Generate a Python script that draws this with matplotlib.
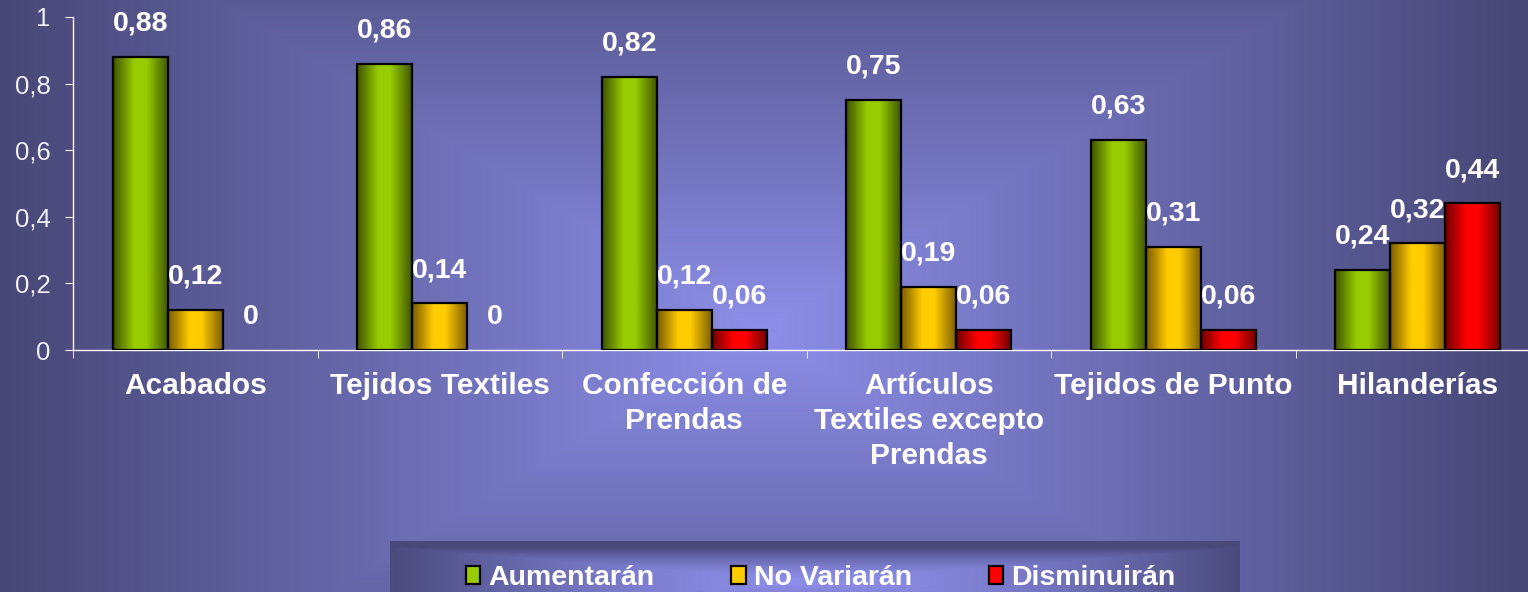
import numpy as np
import matplotlib
matplotlib.use("Agg")
import matplotlib.pyplot as plt
from matplotlib.colors import LinearSegmentedColormap, to_rgb
from matplotlib.patches import Patch

plt.rcParams['font.family'] = ['Liberation Sans', 'DejaVu Sans']

categories = ['Acabados', 'Tejidos Textiles', 'Confección de\nPrendas',
              'Artículos\nTextiles excepto\nPrendas', 'Tejidos de Punto', 'Hilanderías']
series_names = ['Aumentarán', 'No Variarán', 'Disminuirán']
aumentaran = [0.88, 0.86, 0.82, 0.75, 0.63, 0.24]
no_variaran = [0.12, 0.14, 0.12, 0.19, 0.31, 0.32]
disminuiran = [0.0, 0.0, 0.06, 0.06, 0.06, 0.44]
yticks = [0, 0.2, 0.4, 0.6, 0.8, 1.0]
ytick_labels = ['0', '0,2', '0,4', '0,6', '0,8', '1']

light = ['#99cc00', '#ffcc00', '#ff0000']
dark = ['#3f5400', '#7a5c00', '#700000']

W, H = 1528, 592
fig = plt.figure(figsize=(W / 100, H / 100), dpi=100)


def rect_gradient(w, h, cx, cy, ax_, ay_, c_in, c_out, p=1.0):
    xx, yy = np.meshgrid(np.arange(w), np.arange(h))
    t = np.maximum(np.abs(xx - cx) / ax_, np.abs(yy - cy) / ay_)
    t = (np.clip(t, 0, 1) ** p)[..., None]
    return np.array(to_rgb(c_in)) * (1 - t) + np.array(to_rgb(c_out)) * t


# background
bg = fig.add_axes([0, 0, 1, 1], zorder=-2)
bg.imshow(rect_gradient(W, H, 760, 330, 760, 460, '#8c8ee8', '#474776'), aspect='auto')
bg.axis('off')

# legend panel
lp = fig.add_axes([390 / W, 0, 850 / W, 51 / H], zorder=-1)
lp.imshow(rect_gradient(850, 51, 425, 40, 425, 34, '#8c8ee8', '#4a4a7c', p=1.6), aspect='auto')
lp.axis('off')

ax = fig.add_axes([73 / W, (H - 350) / H, 1467 / W, 333 / H])
ax.set_facecolor('none')

x = np.arange(len(categories))
bw = 0.225
all_series = [aumentaran, no_variaran, disminuiran]
for j, vals in enumerate(all_series):
    cmap = LinearSegmentedColormap.from_list('g%d' % j, [(0, dark[j]), (0.38, light[j]),
                                                        (0.6, light[j]), (1, dark[j])])
    grad = np.linspace(0, 1, 64)[None, :]
    for i, v in enumerate(vals):
        xc = x[i] + (j - 1) * bw
        if v > 0:
            b = ax.bar(xc, v, bw, facecolor='none', edgecolor='black', linewidth=1.6, zorder=3)[0]
            im = ax.imshow(grad, cmap=cmap, extent=[xc - bw / 2, xc + bw / 2, 0, v],
                           aspect='auto', zorder=2)
            im.set_clip_path(b)
        lbl = '0' if v == 0 else ('%.2f' % v).replace('.', ',')
        ax.annotate(lbl, (xc, v), xytext=(0, 24), textcoords='offset points',
                    ha='center', va='center', color='white', fontsize=20.5,
                    fontweight='bold', zorder=4)

ax.set_xlim(-0.5, 5.5)
ax.set_ylim(0, 1)
ax.set_yticks(yticks)
ax.set_yticklabels(ytick_labels)
ax.set_xticks(x)
ax.set_xticklabels(categories, fontsize=21.5, fontweight='bold', color='white',
                   linespacing=1.32)
ax.set_xticks(np.arange(-0.5, 6, 1), minor=True)
ax.tick_params(axis='x', which='major', length=0, pad=16)
ax.tick_params(axis='x', which='minor', length=6, color='white', direction='out')
ax.tick_params(axis='y', length=6, color='white', direction='out', labelsize=18.5,
               labelcolor='#f0f0f8', pad=10)
for s in ['top', 'right']:
    ax.spines[s].set_visible(False)
for s in ['left', 'bottom']:
    ax.spines[s].set_color('white')
    ax.spines[s].set_linewidth(1.0)

handles = [Patch(facecolor=light[j], edgecolor='black', linewidth=1.6) for j in range(3)]
leg = fig.legend(handles, series_names, loc='center', bbox_to_anchor=(0.537, 0.024),
                 ncol=3, frameon=False, handlelength=0.5, handleheight=0.6,
                 handletextpad=0.28, columnspacing=2.7, borderpad=0,
                 prop={'size': 20.5, 'weight': 'bold'})
for t in leg.get_texts():
    t.set_color('white')

fig.savefig('out.png', dpi=100)
